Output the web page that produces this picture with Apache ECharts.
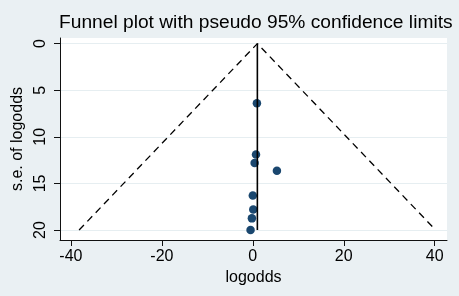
<!DOCTYPE html>
<html>
<head>
<meta charset="utf-8">
<script src="https://cdn.jsdelivr.net/npm/echarts@6/dist/echarts.min.js"></script>
<style>
  html, body { margin: 0; padding: 0; background: #eaf0f3; }
  #chart { width: 459px; height: 296px; }
</style>
</head>
<body>
<div id="chart"></div>
<script>
// study estimates
var logodds = [0.9, 0.7, 0.4, 5.3, 0.0, 0.1, -0.2, -0.5];
var seLogodds = [6.4, 11.9, 12.8, 13.65, 16.3, 17.8, 18.75, 20.0];

// pooled estimate and the pseudo 95% limits
var pooled = 1.0;
var seMax = 20;
var z95 = 1.96;

// tick labels
var xTicks = [-40, -20, 0, 20, 40];
var yTicks = [0, 5, 10, 15, 20];

var points = logodds.map(function (v, i) { return [v, seLogodds[i]]; });
var limits = [
  [pooled - z95 * seMax, seMax],
  [pooled, 0],
  [pooled + z95 * seMax, seMax]
];
var pooledLine = [[pooled, 0], [pooled, seMax]];

var font = '"Liberation Sans", Arial, sans-serif';
var chart = echarts.init(document.getElementById('chart'));

chart.setOption({
  backgroundColor: '#eaf0f3',
  animation: false,
  title: {
    text: 'Funnel plot with pseudo 95% confidence limits',
    left: 54,
    top: 8,
    textStyle: { fontFamily: font, fontSize: 19.2, fontWeight: 'normal', color: '#000' }
  },
  grid: {
    left: 60, right: 12, top: 38, bottom: 56,
    show: true, backgroundColor: '#fff', borderWidth: 0
  },
  xAxis: {
    type: 'value',
    min: -42.4, max: 42.7,
    name: 'logodds',
    nameLocation: 'middle',
    nameGap: 28,
    nameTextStyle: { fontFamily: font, fontSize: 16, color: '#000' },
    axisLine: { onZero: false, lineStyle: { color: '#111', width: 1 } },
    axisTick: { length: 6, customValues: xTicks, lineStyle: { color: '#111' } },
    axisLabel: { customValues: xTicks, margin: 9, fontFamily: font, fontSize: 16, color: '#000' },
    splitLine: { show: false }
  },
  yAxis: {
    type: 'value',
    inverse: true,
    min: -0.6, max: 21.07,
    name: 's.e. of logodds',
    nameLocation: 'middle',
    nameGap: 32,
    nameRotate: 90,
    nameTextStyle: { fontFamily: font, fontSize: 16, color: '#000' },
    axisLine: { show: true, onZero: false, lineStyle: { color: '#111', width: 1 } },
    axisTick: { show: true, length: 6, customValues: yTicks, lineStyle: { color: '#111' } },
    axisLabel: { customValues: yTicks, rotate: 90, margin: 11, fontFamily: font, fontSize: 16, color: '#000' },
    splitLine: { show: true, lineStyle: { color: '#e6eef1', width: 1 } }
  },
  series: [
    {
      type: 'line',
      data: limits,
      symbol: 'none',
      lineStyle: { color: '#000', width: 1.3, type: [7, 5] },
      silent: true
    },
    {
      type: 'line',
      data: pooledLine,
      symbol: 'none',
      lineStyle: { color: '#000', width: 1.6 },
      silent: true
    },
    {
      type: 'scatter',
      data: points,
      symbolSize: 8.5,
      itemStyle: { color: '#1a476f', opacity: 1 }
    }
  ]
});
</script>
</body>
</html>
